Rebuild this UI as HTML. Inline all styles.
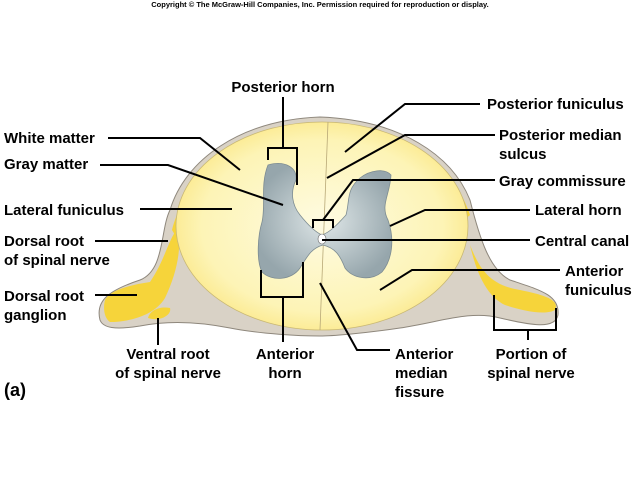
<!DOCTYPE html>
<html><head><meta charset="utf-8"><style>
body{margin:0;background:#fff;width:640px;height:480px;overflow:hidden}
svg text{font-family:"Liberation Sans",sans-serif;font-weight:bold;font-size:15px;fill:#000}
</style></head><body>
<svg width="640" height="480" viewBox="0 0 640 480" xmlns="http://www.w3.org/2000/svg">
<defs>
<radialGradient id="cg" cx="50%" cy="50%" r="55%">
<stop offset="0" stop-color="#fefbe2"/><stop offset="0.75" stop-color="#fdf4b6"/><stop offset="1" stop-color="#fbe785"/>
</radialGradient>
<radialGradient id="gg" cx="50%" cy="50%" r="55%">
<stop offset="0" stop-color="#dfe7e8"/><stop offset="1" stop-color="#96a6ac"/>
</radialGradient>
</defs>
<text x="320" y="7" text-anchor="middle" style="font-size:7.5px">Copyright © The McGraw-Hill Companies, Inc. Permission required for reproduction or display.</text>
<path d="M100,320 C95,300 110,290 140,280 C165,270 160,230 170,210 C185,160 240,120 320,117 C400,120 452,155 470,200 C480,240 490,270 510,280 C540,290 560,295 558,315 C555,330 530,325 500,318 C470,310 440,322 400,328 C360,334 330,336 320,336 C300,336 260,334 230,328 C200,322 170,320 140,326 C115,330 103,328 100,320 Z" fill="#d9d2c6" stroke="#8e877c" stroke-width="1"/>
<path d="M105,300 C110,290 130,285 150,282 C165,260 168,240 178,228 C182,250 176,275 165,298 C155,315 130,322 110,322 C104,318 103,308 105,300 Z" fill="#f6d43a"/>
<path d="M148,318 C150,310 160,306 170,308 C172,315 160,322 148,318 Z" fill="#f6d43a"/>
<path d="M470,245 C480,270 490,285 520,290 C545,295 560,300 555,310 C545,316 520,310 505,305 C490,298 478,280 470,245 Z" fill="#f6d43a"/>
<path d="M172,230 C185,180 230,140 275,128 L270,138 C230,150 195,185 178,240 Z" fill="#f6d43a"/>
<path d="M365,128 C420,140 455,170 470,215 L464,220 C450,180 420,150 370,138 Z" fill="#f6d43a"/>
<ellipse cx="322" cy="226" rx="146" ry="104" fill="url(#cg)" stroke="#c9b874" stroke-width="0.8"/>
<line x1="328" y1="122" x2="320" y2="330" stroke="#b8a877" stroke-width="0.8"/>
<path d="M268,165 C285,160 298,168 296,180 C290,192 292,205 300,215 C308,225 315,232 322,235 C330,232 336,226 346,215 C350,200 346,190 360,178 C370,170 385,168 391,175 C390,195 380,205 388,220 C395,240 392,260 382,272 C370,282 352,278 345,268 C340,255 335,248 323,245 C312,248 308,255 300,268 C292,280 272,282 262,272 C256,260 258,235 262,222 C266,205 260,185 268,165 Z" fill="url(#gg)" stroke="#7d8c92" stroke-width="0.8"/>
<ellipse cx="322" cy="239" rx="4" ry="5" fill="#fff" stroke="#666" stroke-width="0.6"/>
<g stroke="#000" stroke-width="2" fill="none">
<path d="M283,97 V148 M268,160 V148 H297 V185"/>
<path d="M108,138 H200 L240,170"/>
<path d="M100,165 H168 L283,205"/>
<path d="M140,209 H232"/>
<path d="M95,241 H168"/>
<path d="M95,295 H137"/>
<path d="M158,318 V345"/>
<path d="M261,270 V297 H303 V262 M283,297 V342"/>
<path d="M320,283 L357,350 H390"/>
<path d="M494,295 V330 H556 V308 M528,330 V340"/>
<path d="M345,152 L405,104 H480"/>
<path d="M327,178 L405,135 H495"/>
<path d="M313,228 V220 H333 V228 M323,220 L353,180 H495"/>
<path d="M390,226 L425,210 H530"/>
<path d="M322,240 H530"/>
<path d="M380,290 L412,270 H560"/>
</g>
<text x="283" y="92" text-anchor="middle">Posterior horn</text>
<text x="4" y="143">White matter</text>
<text x="4" y="169">Gray matter</text>
<text x="4" y="215">Lateral funiculus</text>
<text x="4" y="246">Dorsal root</text>
<text x="4" y="265">of spinal nerve</text>
<text x="4" y="301">Dorsal root</text>
<text x="4" y="320">ganglion</text>
<text x="168" y="359" text-anchor="middle">Ventral root</text>
<text x="168" y="378" text-anchor="middle">of spinal nerve</text>
<text x="285" y="359" text-anchor="middle">Anterior</text>
<text x="285" y="378" text-anchor="middle">horn</text>
<text x="395" y="359">Anterior</text>
<text x="395" y="378">median</text>
<text x="395" y="397">fissure</text>
<text x="531" y="359" text-anchor="middle">Portion of</text>
<text x="531" y="378" text-anchor="middle">spinal nerve</text>
<text x="487" y="109">Posterior funiculus</text>
<text x="499" y="140">Posterior median</text>
<text x="499" y="159">sulcus</text>
<text x="499" y="186">Gray commissure</text>
<text x="535" y="215">Lateral horn</text>
<text x="535" y="246">Central canal</text>
<text x="565" y="276">Anterior</text>
<text x="565" y="295">funiculus</text>
<text x="4" y="396" style="font-size:18px">(a)</text>
</svg>
</body></html>
